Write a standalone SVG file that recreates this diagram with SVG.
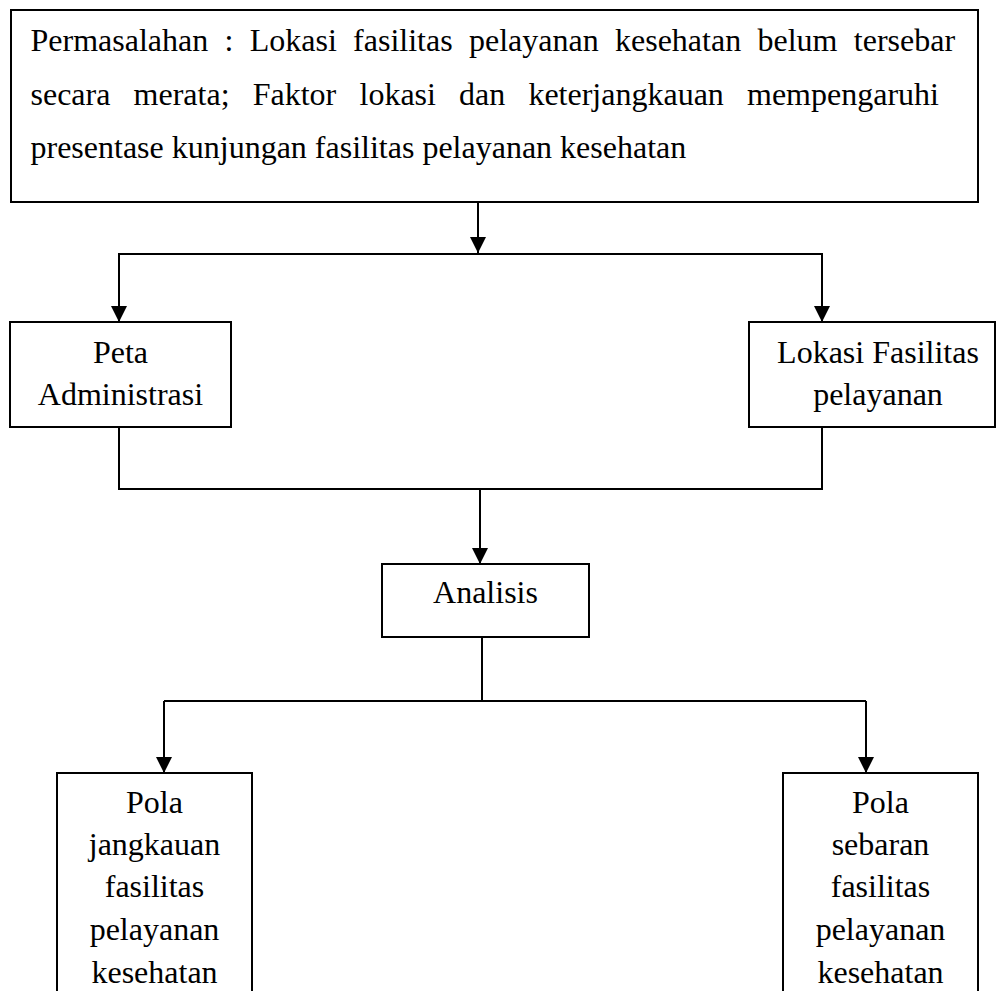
<svg xmlns="http://www.w3.org/2000/svg" width="997" height="991" viewBox="0 0 997 991">
<style>
.box{fill:#fff;stroke:#000;stroke-width:2}
.t{font-family:"Liberation Serif","Times New Roman",serif;font-size:32px;fill:#000}
.c{text-anchor:middle}
.ln{fill:none;stroke:#000;stroke-width:2}
.arr{fill:none;stroke:#000;stroke-width:2;marker-end:url(#ah)}
</style>
<defs>
<marker id="ah" viewBox="0 0 16 16" refX="16" refY="8" markerWidth="16" markerHeight="16" markerUnits="userSpaceOnUse" orient="auto">
<path d="M0,0 L16,8 L0,16 Z" fill="#000"/>
</marker>
</defs>
<rect width="997" height="991" fill="#fff"/>
<g id="connectors">
<path class="arr" d="M478,202 V253"/>
<path class="ln" d="M119,322 V254 H822 V322"/>
<path class="arr" d="M119,254 V322"/>
<path class="arr" d="M822,254 V322"/>
<path class="ln" d="M119,427 V489 H822 V427"/>
<path class="arr" d="M480,489 V564"/>
<path class="ln" d="M482,637 V701 M164,701 H866"/>
<path class="arr" d="M164,701 V773"/>
<path class="arr" d="M866,701 V773"/>
</g>
<g id="permasalahan">
<rect class="box" x="11" y="10" width="967" height="192"/>
<text class="t" y="51"><tspan x="30.5">Permasalahan</tspan><tspan x="224.5">:</tspan><tspan x="249.7">Lokasi</tspan><tspan x="353.1">fasilitas</tspan><tspan x="469">pelayanan</tspan><tspan x="615">kesehatan</tspan><tspan x="757.5">belum</tspan><tspan x="853.8">tersebar</tspan></text>
<text class="t" y="105"><tspan x="30.5">secara</tspan><tspan x="133.6">merata;</tspan><tspan x="252.7">Faktor</tspan><tspan x="359.5">lokasi</tspan><tspan x="459">dan</tspan><tspan x="528.4">keterjangkauan</tspan><tspan x="747">mempengaruhi</tspan></text>
<text class="t" x="30.5" y="158">presentase kunjungan fasilitas pelayanan kesehatan</text>
</g>
<g id="peta">
<rect class="box" x="10" y="322" width="221" height="105"/>
<text class="t c" x="120.5" y="363">Peta</text>
<text class="t c" x="120.5" y="405">Administrasi</text>
</g>
<g id="lokasi">
<rect class="box" x="749" y="322" width="246" height="105"/>
<text class="t c" x="878" y="363">Lokasi Fasilitas</text>
<text class="t c" x="878" y="405">pelayanan</text>
</g>
<g id="analisis">
<rect class="box" x="382" y="564" width="207" height="73"/>
<text class="t c" x="485.5" y="603">Analisis</text>
</g>
<g id="pola-jangkauan">
<rect class="box" x="57" y="773" width="195" height="240"/>
<text class="t c" x="154.5" y="813">Pola</text>
<text class="t c" x="154.5" y="855">jangkauan</text>
<text class="t c" x="154.5" y="897">fasilitas</text>
<text class="t c" x="154.5" y="940">pelayanan</text>
<text class="t c" x="154.5" y="983">kesehatan</text>
</g>
<g id="pola-sebaran">
<rect class="box" x="783" y="773" width="195" height="240"/>
<text class="t c" x="880.5" y="813">Pola</text>
<text class="t c" x="880.5" y="855">sebaran</text>
<text class="t c" x="880.5" y="897">fasilitas</text>
<text class="t c" x="880.5" y="940">pelayanan</text>
<text class="t c" x="880.5" y="983">kesehatan</text>
</g>
</svg>
